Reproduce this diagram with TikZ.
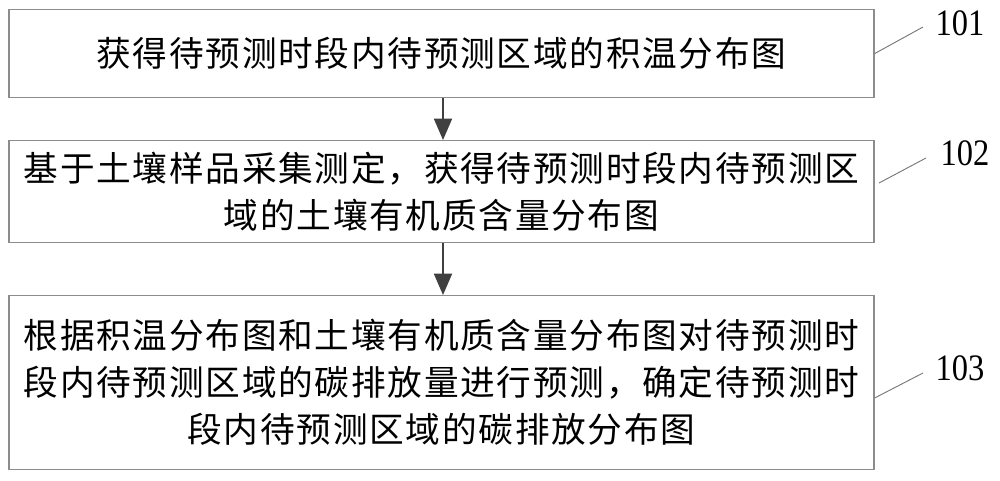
\documentclass[tikz,border=0pt]{standalone}
\usepackage{fontspec}
\newfontfamily\cjk[LetterSpace=5]{Noto Sans CJK SC}
\newfontfamily\numfont[FakeStretch=0.87]{Liberation Serif}
\usetikzlibrary{arrows.meta, positioning}
\definecolor{boxgray}{RGB}{140,140,140}
\definecolor{arrowgray}{RGB}{64,64,64}
\definecolor{leadgray}{RGB}{120,120,120}
\tikzset{
    stepbox/.style={rectangle, draw=boxgray, fill=white, line width=0.9pt, minimum width=648.75pt, minimum height=#1, align=center, inner sep=0pt, font=\cjk\fontsize{26pt}{35.25pt}\selectfont, text=black},
    steparrow/.style={-{Triangle[length=16pt, width=13.5pt]}, draw=arrowgray, fill=arrowgray, line width=1.4pt},
    steplead/.style={draw=leadgray, line width=0.7pt},
    steplabel/.style={font=\numfont\fontsize{28pt}{28pt}\selectfont, inner sep=0pt, text=black}
}

\begin{document}
\begin{tikzpicture}[x=0.75pt, y=-0.75pt]
\useasboundingbox (0,0) rectangle (1000,480);

\node[stepbox=66pt, anchor=north] (s1) at (441.5,9) {获得待预测时段内待预测区域的积温分布图};
\node[stepbox=76.5pt, anchor=north] (s2) at (441.5,140) {基于土壤样品采集测定，获得待预测时段内待预测区\\域的土壤有机质含量分布图};
\node[stepbox=130.5pt, anchor=north] (s3) at (441.5,295) {根据积温分布图和土壤有机质含量分布图对待预测时\\段内待预测区域的碳排放量进行预测，确定待预测时\\段内待预测区域的碳排放分布图};

\draw[steparrow] (s1.south -| 443,0) -- (s2.north -| 443,0);
\draw[steparrow] (s2.south -| 443,0) -- (s3.north -| 443,0);

% labels
\node[steplabel] (l1) at (960,23) {101};
\node[steplabel] (l2) at (965,153) {102};
\node[steplabel] (l3) at (960,368) {103};

\coordinate (p2) at (879,183);
\coordinate (q1) at (923,27);
\coordinate (q2) at (926,158);
\coordinate (q3) at (923,373);

\draw[steplead] (s1.east) -- (q1);
\draw[steplead] (p2) -- (q2);
\draw[steplead] (s3.east |- 0,398) -- (q3);

\end{tikzpicture}
\end{document}
